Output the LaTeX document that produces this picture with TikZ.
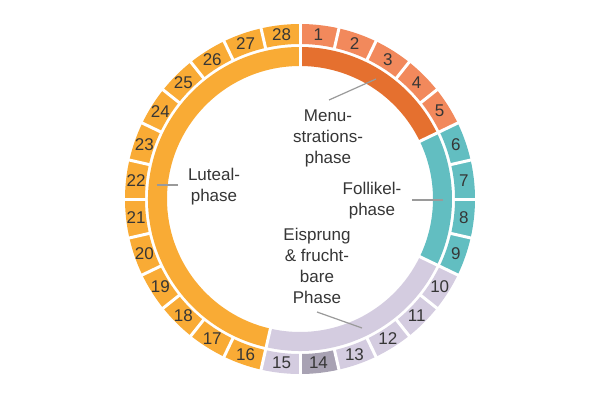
\documentclass[tikz,border=0pt]{standalone}
\usepackage{fontspec}
\setmainfont{Liberation Sans}
\definecolor{mensday}{HTML}{F2895C}
\definecolor{mensph}{HTML}{E5702F}
\definecolor{follday}{HTML}{62BEC1}
\definecolor{follph}{HTML}{62BEC1}
\definecolor{fertday}{HTML}{D4CCE0}
\definecolor{fertph}{HTML}{D4CCE0}
\definecolor{ovday}{HTML}{A8A2B3}
\definecolor{lutday}{HTML}{F9AB35}
\definecolor{lutph}{HTML}{F9AB35}
\definecolor{txt}{HTML}{363636}
\definecolor{leader}{HTML}{9A9A9A}
\begin{document}
\begin{tikzpicture}[x=1pt,y=1pt,
  daynum/.style={text=txt,font=\fontsize{17}{20}\selectfont,inner sep=0pt},
  phaselabel/.style={text=txt,font=\fontsize{17}{21}\selectfont,align=center,inner sep=0pt},
  leaderline/.style={draw=leader,line width=1.2pt},
  gapline/.style={draw=white,line width=3pt}]
\useasboundingbox (0,0) rectangle (600,400);
\fill[white] (0,0) rectangle (600,400);
\begin{scope}[shift={(300,201)}]
  % day ring
  \foreach \i in {1,...,28}{
    \pgfmathsetmacro\aA{90-(\i-1)*360/28}
    \pgfmathsetmacro\aB{90-\i*360/28}
    \pgfmathsetmacro\aM{90-(\i-0.5)*360/28}
    \ifnum\i<6 \def\col{mensday}\else\ifnum\i<10 \def\col{follday}\else\ifnum\i=14 \def\col{ovday}\else\ifnum\i<16 \def\col{fertday}\else\def\col{lutday}\fi\fi\fi\fi
    \fill[\col] (\aA:175) arc[start angle=\aA,end angle=\aB,radius=175] -- (\aB:155) arc[start angle=\aB,end angle=\aA,radius=155] -- cycle;
    \node[daynum] (d\i) at (\aM:165) {\i};
  }
  % phase ring
  \fill[mensph] (90:152) arc[start angle=90,end angle=25.714,radius=152] -- (25.714:133) arc[start angle=25.714,end angle=90,radius=133] -- cycle;
  \fill[follph] (25.714:152) arc[start angle=25.714,end angle=-25.714,radius=152] -- (-25.714:133) arc[start angle=-25.714,end angle=25.714,radius=133] -- cycle;
  \fill[fertph] (-25.714:152) arc[start angle=-25.714,end angle=-102.857,radius=152] -- (-102.857:133) arc[start angle=-102.857,end angle=-25.714,radius=133] -- cycle;
  \fill[lutph] (-102.857:152) arc[start angle=-102.857,end angle=-270,radius=152] -- (-270:133) arc[start angle=-270,end angle=-102.857,radius=133] -- cycle;
  % gaps
  \foreach \k in {0,...,27}{
    \pgfmathsetmacro\aG{90-\k*360/28}
    \draw[gapline] (\aG:154) -- (\aG:177);
  }
  \foreach \aG in {90,25.714,-25.714,-102.857}{
    \draw[gapline] (\aG:131) -- (\aG:153.5);
  }
\end{scope}
% labels
\node[phaselabel] (mens) at (328,262) {Menu-\\strations-\\phase};
\node[phaselabel] (lut) at (214,213) {Luteal-\\phase};
\node[phaselabel] (foll) at (372,199) {Follikel-\\phase};
\node[phaselabel] (fert) at (317,134) {Eisprung\\\& frucht-\\bare\\Phase};
% leader lines
\coordinate (mensA) at (329,300);
\coordinate (mensB) at (376,321);
\coordinate (lutA) at (178,215);
\coordinate (lutB) at (157,215);
\coordinate (follA) at (412,200);
\coordinate (follB) at (443,200);
\coordinate (fertA) at (317,88);
\coordinate (fertB) at (362,72);
\draw[leaderline] (mensA) -- (mensB);
\draw[leaderline] (lutA) -- (lutB);
\draw[leaderline] (follA) -- (follB);
\draw[leaderline] (fertA) -- (fertB);
\end{tikzpicture}
\end{document}
